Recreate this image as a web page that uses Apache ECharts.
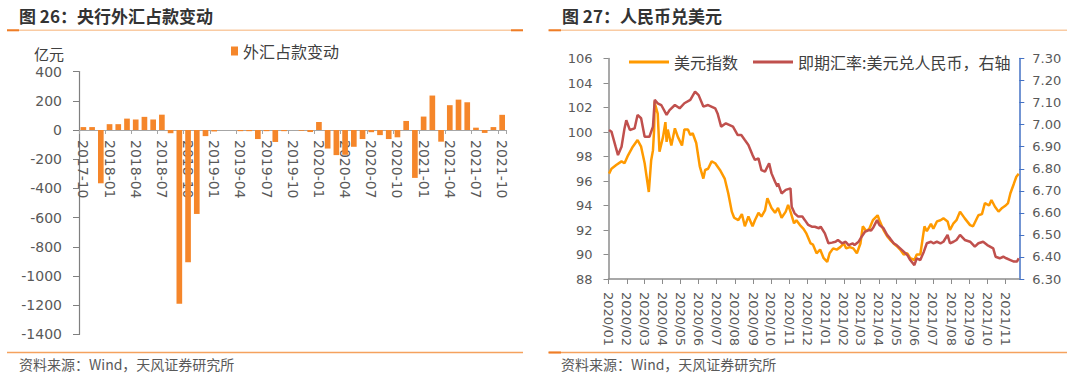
<!DOCTYPE html>
<html>
<head>
<meta charset="utf-8">
<script src="https://cdn.jsdelivr.net/npm/echarts@6/dist/echarts.min.js"></script>
<style>
html,body{margin:0;padding:0;background:#fff;}
#c{width:1080px;height:375px;}
</style>
</head>
<body>
<div id="c"></div>
<script>
// ---------- Left chart: 央行外汇占款变动 (亿元) ----------
const fxMonths = ['2017-10','2017-11','2017-12','2018-01','2018-02','2018-03','2018-04','2018-05','2018-06','2018-07','2018-08','2018-09','2018-10','2018-11','2018-12','2019-01','2019-02','2019-03','2019-04','2019-05','2019-06','2019-07','2019-08','2019-09','2019-10','2019-11','2019-12','2020-01','2020-02','2020-03','2020-04','2020-05','2020-06','2020-07','2020-08','2020-09','2020-10','2020-11','2020-12','2021-01','2021-02','2021-03','2021-04','2021-05','2021-06','2021-07','2021-08','2021-09','2021-10'];
const fxChange = [20,20,-365,40,40,78,72,90,72,105,-22,-1190,-905,-575,-42,-10,0,0,-8,-8,-62,-8,-82,-8,0,-5,-14,55,-127,-172,-170,-115,-62,-15,-35,-62,-50,62,-328,92,236,-80,170,208,190,16,-20,20,104];
const fxAxis = {min: -1400, max: 400, interval: 200};

// ---------- Right chart: 人民币兑美元 ----------
const dxyDates = ['2020-01-02','2020-01-06','2020-01-14','2020-01-23','2020-01-28','2020-02-03','2020-02-11','2020-02-19','2020-02-25','2020-03-02','2020-03-09','2020-03-13','2020-03-16','2020-03-18','2020-03-19','2020-03-20','2020-03-24','2020-03-27','2020-04-02','2020-04-06','2020-04-08','2020-04-10','2020-04-16','2020-04-22','2020-04-27','2020-05-04','2020-05-08','2020-05-14','2020-05-18','2020-05-22','2020-05-28','2020-06-03','2020-06-09','2020-06-12','2020-06-17','2020-06-23','2020-06-29','2020-07-07','2020-07-15','2020-07-21','2020-07-27','2020-07-31','2020-08-07','2020-08-13','2020-08-18','2020-08-24','2020-08-31','2020-09-04','2020-09-10','2020-09-15','2020-09-21','2020-09-25','2020-10-02','2020-10-08','2020-10-13','2020-10-19','2020-10-26','2020-10-30','2020-11-03','2020-11-09','2020-11-13','2020-11-19','2020-11-25','2020-11-30','2020-12-07','2020-12-11','2020-12-17','2020-12-23','2020-12-29','2021-01-04','2021-01-08','2021-01-14','2021-01-20','2021-01-26','2021-02-01','2021-02-05','2021-02-11','2021-02-17','2021-02-23','2021-03-01','2021-03-05','2021-03-11','2021-03-16','2021-03-22','2021-03-30','2021-04-02','2021-04-09','2021-04-15','2021-04-20','2021-04-26','2021-05-03','2021-05-07','2021-05-13','2021-05-19','2021-05-24','2021-05-31','2021-06-04','2021-06-10','2021-06-17','2021-06-21','2021-06-28','2021-07-02','2021-07-08','2021-07-14','2021-07-19','2021-07-26','2021-07-30','2021-08-05','2021-08-10','2021-08-16','2021-08-24','2021-09-02','2021-09-07','2021-09-16','2021-09-22','2021-09-27','2021-10-04','2021-10-08','2021-10-14','2021-10-20','2021-10-26','2021-11-01','2021-11-05','2021-11-09','2021-11-15','2021-11-19','2021-11-23'];
const dxyValues = [96.6,97.0,97.3,97.6,97.45,98.1,98.8,99.35,98.8,97.45,95.1,97.7,98.5,100.2,102.5,102.2,101.5,98.4,99.6,100.8,99.2,100.2,98.9,100.3,99.6,98.9,100.2,100.2,99.75,99.9,99.1,97.2,96.2,96.9,97.0,97.6,97.45,96.9,96.2,95.0,93.5,93.0,92.8,93.3,92.3,93.1,92.3,92.8,93.4,93.1,93.6,94.6,93.8,93.4,93.8,93.0,93.5,94.05,93.5,92.55,92.8,92.4,92.1,91.7,90.9,90.8,90.1,90.4,89.7,89.4,90.1,90.5,90.4,90.6,90.9,90.5,90.6,90.5,90.1,90.9,92.3,91.9,92.1,92.8,93.2,92.8,92.0,91.5,91.2,90.9,90.6,90.4,90.0,90.1,89.7,89.55,90.0,90.0,92.3,91.9,92.5,92.1,92.7,92.8,92.95,92.7,92.0,92.55,92.8,93.5,92.95,92.4,92.3,93.2,93.3,94.2,94.0,94.45,93.9,93.5,93.8,94.0,94.2,95.0,95.8,96.35,96.6];

const cnyDates = ['2020-01-02','2020-01-06','2020-01-13','2020-01-17','2020-01-23','2020-01-28','2020-01-31','2020-02-06','2020-02-14','2020-02-19','2020-02-25','2020-03-02','2020-03-10','2020-03-16','2020-03-19','2020-03-24','2020-03-30','2020-04-08','2020-04-13','2020-04-22','2020-04-30','2020-05-08','2020-05-18','2020-05-26','2020-06-01','2020-06-09','2020-06-17','2020-06-29','2020-07-03','2020-07-09','2020-07-17','2020-07-29','2020-08-06','2020-08-12','2020-08-18','2020-08-24','2020-08-31','2020-09-04','2020-09-10','2020-09-15','2020-09-21','2020-09-28','2020-10-02','2020-10-08','2020-10-12','2020-10-13','2020-10-19','2020-10-26','2020-11-03','2020-11-05','2020-11-10','2020-11-16','2020-11-23','2020-11-27','2020-12-03','2020-12-09','2020-12-14','2020-12-21','2020-12-24','2020-12-31','2021-01-06','2021-01-12','2021-01-18','2021-01-22','2021-01-29','2021-02-04','2021-02-09','2021-02-16','2021-02-19','2021-02-26','2021-03-03','2021-03-09','2021-03-15','2021-03-19','2021-03-23','2021-03-29','2021-04-02','2021-04-09','2021-04-15','2021-04-20','2021-04-26','2021-05-01','2021-05-07','2021-05-13','2021-05-19','2021-05-24','2021-05-31','2021-06-04','2021-06-10','2021-06-16','2021-06-21','2021-06-28','2021-07-02','2021-07-08','2021-07-14','2021-07-19','2021-07-26','2021-07-30','2021-08-05','2021-08-10','2021-08-16','2021-08-24','2021-09-02','2021-09-10','2021-09-16','2021-09-24','2021-10-01','2021-10-11','2021-10-15','2021-10-22','2021-10-28','2021-11-02','2021-11-09','2021-11-15','2021-11-20','2021-11-23'];
const cnyValues = [6.976,6.968,6.90,6.862,6.90,6.983,7.02,6.976,6.983,7.044,7.029,6.945,6.945,6.991,7.112,7.097,7.089,7.044,7.066,7.089,7.074,7.097,7.112,7.15,7.134,7.082,7.089,7.074,7.051,6.991,7.006,6.991,6.953,6.953,6.93,6.908,6.862,6.84,6.847,6.794,6.787,6.825,6.779,6.741,6.719,6.734,6.688,6.704,6.711,6.628,6.598,6.583,6.583,6.568,6.545,6.537,6.537,6.53,6.537,6.507,6.462,6.465,6.469,6.477,6.462,6.469,6.454,6.462,6.454,6.469,6.492,6.515,6.522,6.52,6.535,6.567,6.545,6.53,6.50,6.484,6.462,6.454,6.439,6.424,6.409,6.386,6.363,6.394,6.386,6.424,6.462,6.469,6.462,6.469,6.462,6.469,6.50,6.462,6.469,6.477,6.50,6.477,6.469,6.447,6.462,6.469,6.454,6.439,6.401,6.394,6.401,6.394,6.386,6.379,6.379,6.394];

const dayAxisStart = '2020-01-01';
const dayAxisEnd = '2021-11-24';
const leftTicks = {min: 88, max: 106, interval: 2};
const rightTicks = {min: 6.3, max: 7.3, interval: 0.1};

// calendar days for the date axis
const days = [];
for (let t = Date.parse(dayAxisStart + 'T00:00:00Z'); t <= Date.parse(dayAxisEnd + 'T00:00:00Z'); t += 86400000) {
  days.push(new Date(t).toISOString().slice(0, 10));
}
const isMonthStart = (i, v) => v.slice(8) === '01';

const NUM = 'DejaVu Sans';
const CJK = '"Noto Sans CJK SC"';

// left grid geometry; the category axis sits on the zero line
const g1 = {left: 79, top: 71.6, width: 427.5, height: 262.8};
const zeroOffset = -g1.height * (0 - fxAxis.min) / (fxAxis.max - fxAxis.min);

const chart = echarts.init(document.getElementById('c'), null, {renderer: 'svg'});
chart.setOption({
  animation: false,
  backgroundColor: '#ffffff',
  grid: [
    Object.assign({outerBoundsMode: 'none', containLabel: false}, g1),
    {left: 608.5, top: 58.5, width: 410.8, height: 220.5, outerBoundsMode: 'none', containLabel: false}
  ],
  legend: [
    {data: ['外汇占款变动'], left: 226, top: 38, icon: 'rect', itemWidth: 7, itemHeight: 9, itemGap: 5,
     textStyle: {fontSize: 16, color: '#404040', fontFamily: CJK}},
    {data: ['美元指数', '即期汇率:美元兑人民币，右轴'], left: 624, top: 49, icon: 'rect', itemWidth: 40, itemHeight: 3, itemGap: 15,
     textStyle: {fontSize: 16, color: '#404040', fontFamily: CJK}}
  ],
  xAxis: [
    {type: 'category', gridIndex: 0, data: fxMonths, boundaryGap: true, position: 'bottom', offset: zeroOffset,
     axisLine: {onZero: false, lineStyle: {color: '#A6A6A6', width: 1}},
     axisTick: {show: true, interval: 2, length: 4, alignWithLabel: false, lineStyle: {color: '#A6A6A6'}},
     axisLabel: {interval: 2, rotate: -90, margin: 10, fontSize: 14, color: '#595959', fontFamily: NUM},
     splitLine: {show: false}},
    {type: 'category', gridIndex: 1, data: days, boundaryGap: false,
     axisLine: {lineStyle: {color: '#8C8C8C', width: 1.5}},
     axisTick: {show: true, interval: isMonthStart, length: 5, lineStyle: {color: '#8C8C8C'}},
     axisLabel: {interval: isMonthStart, rotate: -90, margin: 13, fontSize: 13, color: '#595959', fontFamily: NUM,
       formatter: v => v.slice(0, 4) + '/' + v.slice(5, 7)},
     splitLine: {show: false}}
  ],
  yAxis: [
    {type: 'value', gridIndex: 0, min: fxAxis.min, max: fxAxis.max, interval: fxAxis.interval,
     axisLine: {show: true, lineStyle: {color: '#7F7F7F', width: 1.2}},
     axisTick: {show: true, length: 6, lineStyle: {color: '#7F7F7F'}},
     axisLabel: {margin: 17, fontSize: 14, color: '#595959', fontFamily: NUM, formatter: v => String(v)},
     splitLine: {show: false}},
    {type: 'value', gridIndex: 1, position: 'left', min: leftTicks.min, max: leftTicks.max, interval: leftTicks.interval,
     axisLine: {show: true, lineStyle: {color: '#8C8C8C', width: 1.5}},
     axisTick: {show: true, length: 5, lineStyle: {color: '#8C8C8C'}},
     axisLabel: {margin: 16, fontSize: 13, color: '#595959', fontFamily: NUM, formatter: v => String(v)},
     splitLine: {show: false}},
    {type: 'value', gridIndex: 1, position: 'right', min: rightTicks.min, max: rightTicks.max, interval: rightTicks.interval,
     axisLine: {show: true, lineStyle: {color: '#4472C4', width: 1.5}},
     axisTick: {show: true, length: 5, lineStyle: {color: '#4472C4'}},
     axisLabel: {margin: 13, fontSize: 13, color: '#595959', fontFamily: NUM, formatter: v => v.toFixed(2)},
     splitLine: {show: false}}
  ],
  series: [
    {name: '外汇占款变动', type: 'bar', xAxisIndex: 0, yAxisIndex: 0, data: fxChange, barWidth: '65%',
     itemStyle: {color: '#F5862A'}},
    {name: '美元指数', type: 'line', xAxisIndex: 1, yAxisIndex: 1, showSymbol: false, symbol: 'none',
     data: dxyDates.map((d, i) => [d, dxyValues[i]]),
     itemStyle: {color: '#FF9A00'}, lineStyle: {color: '#FF9A00', width: 2.5}},
    {name: '即期汇率:美元兑人民币，右轴', type: 'line', xAxisIndex: 1, yAxisIndex: 2, showSymbol: false, symbol: 'none',
     data: cnyDates.map((d, i) => [d, cnyValues[i]]),
     itemStyle: {color: '#C0504D'}, lineStyle: {color: '#C0504D', width: 2.5}}
  ],
  graphic: [
    // header rules
    {type: 'line', shape: {x1: 7, y1: 30.3, x2: 523, y2: 30.3}, style: {stroke: '#F9CBA3', lineWidth: 1.5}},
    {type: 'line', shape: {x1: 7, y1: 30.3, x2: 19, y2: 30.3}, style: {stroke: '#EF7D26', lineWidth: 2}},
    {type: 'line', shape: {x1: 511, y1: 30.3, x2: 523, y2: 30.3}, style: {stroke: '#EF7D26', lineWidth: 2}},
    {type: 'line', shape: {x1: 548.6, y1: 30.3, x2: 1067, y2: 30.3}, style: {stroke: '#F9CBA3', lineWidth: 1.5}},
    {type: 'line', shape: {x1: 548.6, y1: 30.3, x2: 561, y2: 30.3}, style: {stroke: '#EF7D26', lineWidth: 2}},
    // footer rules
    {type: 'line', shape: {x1: 7, y1: 352.5, x2: 523, y2: 352.5}, style: {stroke: '#F5A25E', lineWidth: 1.5}},
    {type: 'line', shape: {x1: 548.6, y1: 352.5, x2: 1067, y2: 352.5}, style: {stroke: '#F5A25E', lineWidth: 1.5}},
    {type: 'line', shape: {x1: 548.6, y1: 352.5, x2: 561, y2: 352.5}, style: {stroke: '#EF7D26', lineWidth: 2}},
    // titles and notes
    {type: 'text', style: {text: '图 26：央行外汇占款变动', x: 19, y: 15.5, textVerticalAlign: 'middle', verticalAlign: 'middle',
      font: 'bold 17px "Noto Sans CJK SC"', fill: '#333333'}},
    {type: 'text', style: {text: '图 27：人民币兑美元', x: 562, y: 15.5, textVerticalAlign: 'middle', verticalAlign: 'middle',
      font: 'bold 17px "Noto Sans CJK SC"', fill: '#333333'}},
    {type: 'text', style: {text: '亿元', x: 34, y: 53.4, textVerticalAlign: 'middle', verticalAlign: 'middle',
      font: '15px "Noto Sans CJK SC"', fill: '#404040'}},
    {type: 'text', style: {text: '资料来源：Wind，天风证券研究所', x: 19, y: 364, textVerticalAlign: 'middle', verticalAlign: 'middle',
      font: '14px "Noto Sans CJK SC"', fill: '#595959'}},
    {type: 'text', style: {text: '资料来源：Wind，天风证券研究所', x: 561, y: 364, textVerticalAlign: 'middle', verticalAlign: 'middle',
      font: '14px "Noto Sans CJK SC"', fill: '#595959'}}
  ]
});
</script>
</body>
</html>
